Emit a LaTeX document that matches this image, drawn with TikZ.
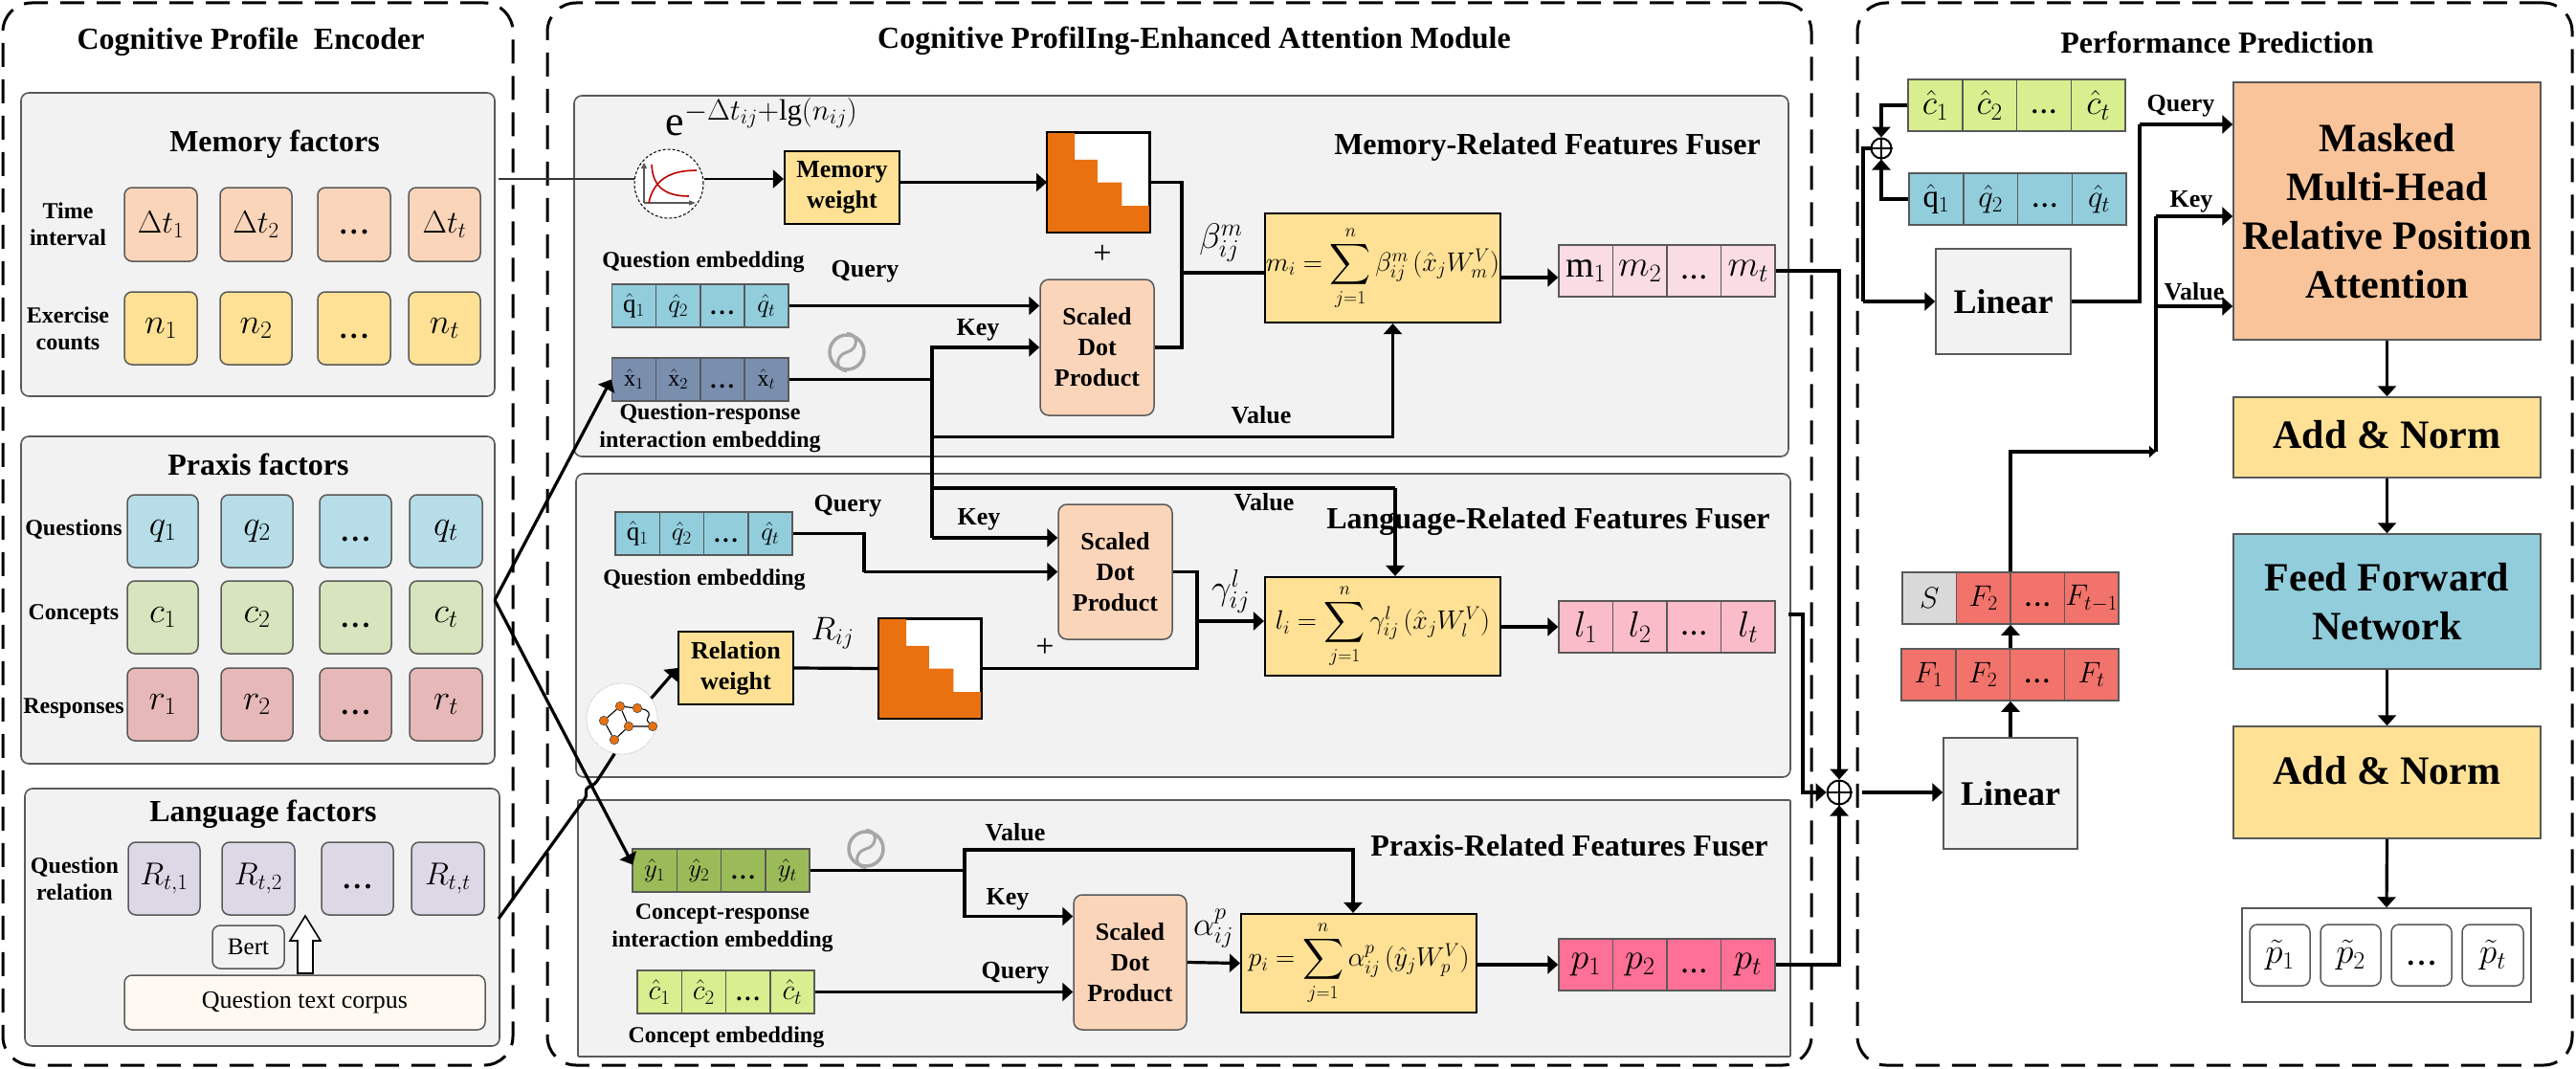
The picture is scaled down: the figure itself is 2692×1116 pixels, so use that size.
\RequirePackage{fix-cm}
\documentclass[tikz,border=0pt]{standalone}
\usepackage{fontspec}
\setmainfont{Liberation Serif}
\usepackage{amsmath}
\usetikzlibrary{arrows.meta,calc}
\definecolor{pOrange}{HTML}{FBD5BA}
\definecolor{pYellow}{HTML}{FFE195}
\definecolor{pBlue}{HTML}{B7DDE8}
\definecolor{pGreen}{HTML}{D7E4BD}
\definecolor{pRed}{HTML}{E6B9B8}
\definecolor{pPurple}{HTML}{DDD8E6}
\definecolor{qBlue}{HTML}{92CDDC}
\definecolor{xBlue}{HTML}{7A8EAE}
\definecolor{yGreen}{HTML}{9BBB59}
\definecolor{cGreen}{HTML}{D8EE8F}
\definecolor{mPink}{HTML}{FADCE4}
\definecolor{lPink}{HTML}{FBBCCA}
\definecolor{pPink}{HTML}{FF7097}
\definecolor{fRed}{HTML}{F2736B}
\definecolor{maskO}{HTML}{E97110}
\definecolor{attO}{HTML}{F9C49A}
\definecolor{panelG}{HTML}{F2F2F2}
\definecolor{edgeG}{HTML}{595959}
\definecolor{swirlG}{HTML}{A6A6A6}
\newcommand{\fsz}[2]{\fontsize{#1}{#2}\selectfont}
\newcommand{\bx}[7]{\node[#2,minimum width={(#5-#3)*1pt},minimum height={(#6-#4)*1pt},inner sep=0pt] (#1) at ({(#3+#5)/2},{(#4+#6)/2}) {#7};}
\newcommand{\cellrow}[6]{\def\rn{#1}\tikzset{currow/.style={#2}}\def\rxa{#3}\def\rya{#4}\def\ryb{#6}\pgfmathsetmacro{\rw}{(#5-#3)/4}\cellrowB}
\newcommand{\cellrowB}[4]{%
\pgfmathsetmacro{\rxb}{\rxa+\rw}\pgfmathsetmacro{\rxc}{\rxa+2*\rw}\pgfmathsetmacro{\rxd}{\rxa+3*\rw}\pgfmathsetmacro{\rxe}{\rxa+4*\rw}%
\bx{\rn1}{currow}{\rxa}{\rya}{\rxb}{\ryb}{#1}%
\bx{\rn2}{currow}{\rxb}{\rya}{\rxc}{\ryb}{#2}%
\bx{\rn3}{currow}{\rxc}{\rya}{\rxd}{\ryb}{#3}%
\bx{\rn4}{currow}{\rxd}{\rya}{\rxe}{\ryb}{#4}}
\newcommand{\maskbox}[5]{%
\bx{#1}{draw=black,line width=2pt,fill=white}{#2}{#3}{#4}{#5}{}%
\pgfmathsetmacro{\mw}{#4-#2}\pgfmathsetmacro{\mh}{#5-#3}%
\fill[maskO] (#2,#3) -- ++({.265*\mw},0) -- ++(0,{.27*\mh}) -- ++({.225*\mw},0) -- ++(0,{.23*\mh}) -- ++({.24*\mw},0) -- ++(0,{.24*\mh}) -- ++({.27*\mw},0) -- (#4,#5) -- (#2,#5) -- cycle;%
\draw[black,line width=2pt] (#1.north west) rectangle (#1.south east);}
\newcommand{\oplusnode}[4]{\node[circle,draw=black,line width=2pt,minimum size=#4,inner sep=0pt,fill=white] (#1) at (#2,#3) {};\draw[line width=2pt] (#1.north) -- (#1.south) (#1.west) -- (#1.east);}
\newcommand{\swirl}[3]{\node[circle,draw=swirlG,line width=3.5pt,minimum size=36pt,inner sep=0pt] (#1) at (#2,#3) {};\draw[swirlG,line width=3pt] (#1.north) .. controls +(13,1) and +(12,-3) .. (#1.center) .. controls +(-12,3) and +(-13,-1) .. (#1.south);}
\newcommand{\dd}{\rule{0pt}{.7em}\textbf{.\kern.12em.\kern.12em.}}
\newcommand{\ddB}{\fsz{30}{36}\dd}
\newcommand{\Bsum}{\mathop{\vcenter{\hbox{\scalebox{1.2}{$\displaystyle\sum$}}}}\limits}
\tikzset{
 section/.style={draw=black,line width=3pt,dash pattern=on 25pt off 13pt,rounded corners=30pt},
 panel/.style={draw=edgeG,line width=1.6pt,fill=panelG,rounded corners=8pt},
 roundcell/.style={draw=edgeG,line width=1.5pt,rounded corners=8pt,font=\fsz{33}{38}},
 rowcell/.style={draw=edgeG,line width=1.5pt,font=\fsz{27}{32}},
 wbox/.style={draw=black,line width=2.2pt,fill=pYellow,font=\bfseries\fsz{26}{32},align=center},
 sdp/.style={draw=edgeG,line width=1.5pt,fill=pOrange,rounded corners=9pt,font=\bfseries\fsz{26}{32},align=center},
 fbox/.style={draw=black,line width=2.2pt,fill=pYellow,font=\fsz{28}{32}},
 bigbox/.style={draw=edgeG,line width=1.5pt,font=\bfseries\fsz{42}{51},align=center},
 linbox/.style={draw=edgeG,line width=1.5pt,fill=panelG,font=\bfseries\fsz{36}{42}},
 ttl/.style={font=\bfseries\fsz{32}{38}},
 lab/.style={font=\bfseries\fsz{26}{32},align=center},
 sml/.style={font=\bfseries\fsz{24}{29},align=center},
 conn/.style={draw=black,line width=3.2pt,line join=miter},
 arr/.style={conn,-{Triangle[length=11pt,width=19pt]}},
 arrs/.style={conn,-{Triangle[length=7pt,width=12pt]}},
 gnode/.style={circle,fill=maskO,draw=black!70,line width=.6pt,minimum size=9.5pt,inner sep=0pt},
}
\begin{document}
\begin{tikzpicture}[x=1pt,y=-1pt]
\useasboundingbox (0,0) rectangle (2692,1116);
% sections
\bx{secA}{section}{3}{3}{536}{1113}{}
\bx{secB}{section}{572}{3}{1893}{1113}{}
\bx{secC}{section}{1941}{3}{2688}{1113}{}
\node[ttl] (tA) at (262,44) {Cognitive Profile\ \ Encoder};
\node[ttl] (tB) at (1248,43) {Cognitive ProfilIng-Enhanced Attention Module};
\node[ttl] (tC) at (2317,44) {Performance Prediction};
% left panels
\bx{pM}{panel}{22}{97}{517}{414}{}
\bx{pP}{panel}{22}{456}{517}{798}{}
\bx{pL}{panel}{26}{824}{522}{1093}{}
\node[ttl] (tM) at (287,151) {Memory factors};
\node[ttl] (tP) at (270,485) {Praxis factors};
\node[ttl] (tL) at (275,851) {Language factors};
\foreach \nm/\xa/\xb/\txt in {a/130/206/{$\Delta t_1$},b/230/305/{$\Delta t_2$},c/332/408/{\ddB},d/427/502/{$\Delta t_t$}}{\bx{t\nm}{roundcell,fill=pOrange}{\xa}{196}{\xb}{273}{\txt}}
\foreach \nm/\xa/\xb/\txt in {a/130/206/{$n_1$},b/230/305/{$n_2$},c/332/408/{\ddB},d/427/502/{$n_t$}}{\bx{n\nm}{roundcell,fill=pYellow,font=\fsz{37}{42}}{\xa}{305}{\xb}{381}{\txt}}
\foreach \nm/\xa/\xb/\txt in {a/133/207/{$q_1$},b/231/306/{$q_2$},c/334/409/{\ddB},d/428/504/{$q_t$}}{\bx{q\nm}{roundcell,fill=pBlue,font=\fsz{37}{42}}{\xa}{517}{\xb}{593}{\txt}}
\foreach \nm/\xa/\xb/\txt in {a/133/207/{$c_1$},b/231/306/{$c_2$},c/334/409/{\ddB},d/428/504/{$c_t$}}{\bx{c\nm}{roundcell,fill=pGreen,font=\fsz{37}{42}}{\xa}{607}{\xb}{683}{\txt}}
\foreach \nm/\xa/\xb/\txt in {a/133/207/{$r_1$},b/231/306/{$r_2$},c/334/409/{\ddB},d/428/504/{$r_t$}}{\bx{r\nm}{roundcell,fill=pRed,font=\fsz{37}{42}}{\xa}{698}{\xb}{774}{\txt}}
\foreach \nm/\xa/\xb/\txt in {a/134/209/{$R_{t,1}$},b/232/308/{$R_{t,2}$},c/336/411/{\ddB},d/430/506/{$R_{t,t}$}}{\bx{R\nm}{roundcell,fill=pPurple}{\xa}{880}{\xb}{956}{\txt}}
\node[sml] (lT) at (71,234) {Time\\[-1pt]interval};
\node[sml] (lE) at (71,343) {Exercise\\[-1pt]counts};
\node[sml] (lQ) at (77,553) {Questions};
\node[sml] (lC) at (77,642) {Concepts};
\node[sml] (lR) at (77,740) {Responses};
\node[sml] (lQr) at (78,918) {Question\\[-1pt]relation};
\bx{bert}{draw=edgeG,line width=1.5pt,fill=panelG,rounded corners=8pt,font=\fsz{25}{30}}{222}{967}{297}{1012}{Bert}
\bx{corpus}{draw=edgeG,line width=1.5pt,fill=orange!5,rounded corners=8pt,font=\fsz{26}{31}}{130}{1019}{507}{1076}{Question text corpus}
\draw[line width=1.6pt,fill=white] (311,1017) -- (311,983) -- (303,983) -- (319,957) -- (335,983) -- (327,983) -- (327,1017) -- cycle;
% fuser panels
\bx{fM}{panel}{600}{100}{1869}{477}{}
\bx{fL}{panel}{602}{495}{1871}{812}{}
\bx{fP}{panel,rounded corners=1pt}{604}{836}{1871}{1104}{}
\node[ttl] (tfM) at (1617,154) {Memory-Related Features Fuser};
\node[ttl] (tfP) at (1640,884) {Praxis-Related Features Fuser};
% memory fuser nodes
\node[font=\fsz{44}{50}] (expf) at (796,122) {$\mathrm{e}^{-\Delta t_{ij}+\lg(n_{ij})}$};
\node[circle,draw=black,densely dashed,line width=1pt,fill=white,minimum size=72pt,inner sep=0pt] (curve) at (699,192) {};
\draw[-{Triangle[length=6pt,width=6pt]},edgeG,line width=1.2pt] (curve.center) ++(-26,20) -- ++(0,-42);
\draw[-{Triangle[length=7pt,width=5pt]},edgeG,line width=1.2pt] (curve.center) ++(-26,20) -- ++(54,0);
\draw[red!75!black,line width=1.6pt] (678,212) .. controls (683,188) and (700,178) .. (728,178);
\draw[red!75!black,line width=1.6pt] (681,172) .. controls (682,195) and (695,205) .. (720,205);
\bx{mw}{wbox}{820}{158}{940}{234}{Memory\\weight}
\maskbox{mask1}{1095}{139}{1201}{242}
\node[font=\fsz{34}{38}] (plusA) at (1152,266) {+};
\bx{sdpA}{sdp}{1087}{292}{1206}{434}{Scaled\\Dot\\Product}
\bx{fA}{fbox}{1322}{223}{1568}{337}{$m_i=\Bsum_{j=1}^{n}\beta_{ij}^{m}\,(\hat{x}_jW_m^V)$}
\cellrow{m}{rowcell,fill=mPink,font=\fsz{38}{42}}{1629}{256}{1855}{310}{$\mathrm{m}_1$}{$m_2$}{\fsz{26}{30}\dd}{$m_t$}
\cellrow{qA}{rowcell,fill=qBlue}{639.5}{297}{824}{342}{$\hat{\mathrm{q}}_1$}{$\hat{q}_2$}{\fsz{25}{30}\dd}{$\hat{q}_t$}
\cellrow{xA}{rowcell,fill=xBlue,font=\fsz{24}{28}}{639.5}{374}{824}{419}{$\hat{\mathrm{x}}_1$}{$\hat{\mathrm{x}}_2$}{\fsz{25}{30}\dd}{$\hat{\mathrm{x}}_t$}
\node[sml] (lqA) at (735,274) {Question embedding};
\node[sml] (lxA) at (742,447) {Question-response\\interaction embedding};
\node[lab] (qyA) at (904,284) {Query};
\node[lab] (kyA) at (1022,345) {Key};
\node[lab] (vlA) at (1318,434) {Value};
\node[font=\fsz{37}{42}] (bA) at (1276,254) {$\beta_{ij}^{m}$};
\swirl{swA}{885}{368}
% language fuser nodes
\cellrow{qB}{rowcell,fill=qBlue}{643}{535}{828}{580}{$\hat{\mathrm{q}}_1$}{$\hat{q}_2$}{\fsz{25}{30}\dd}{$\hat{q}_t$}
\node[sml] (lqB) at (736,606) {Question embedding};
\node[lab] (qyB) at (886,529) {Query};
\node[lab] (kyB) at (1023,543) {Key};
\node[lab] (vlB) at (1321,525) {Value};
\bx{sdpB}{sdp}{1106}{527}{1225}{668}{Scaled\\Dot\\Product}
\maskbox{mask2}{919}{647}{1025}{750}
\node[font=\fsz{34}{38}] (plusB) at (1092,677) {+};
\bx{rw}{wbox}{709}{660}{829}{736}{Relation\\weight}
\node[font=\fsz{34}{38}] (rij) at (870,662) {$R_{ij}$};
\node[font=\fsz{37}{42}] (gA) at (1286,618) {$\gamma_{ij}^{l}$};
\bx{fB}{fbox}{1322}{603}{1568}{706}{$l_i=\Bsum_{j=1}^{n}\gamma_{ij}^{l}\,(\hat{x}_jW_l^V)$}
\cellrow{l}{rowcell,fill=lPink,font=\fsz{38}{42}}{1629}{628}{1855}{682}{$l_1$}{$l_2$}{\fsz{26}{30}\dd}{$l_t$}
\node[circle,draw=gray!50,densely dotted,line width=.8pt,fill=white,minimum size=74pt,inner sep=0pt] (gi) at (650,751) {};
\node[gnode] (g1) at (631,753) {};
\node[gnode] (g2) at (648,738) {};
\node[gnode] (g3) at (666,740) {};
\node[gnode] (g4) at (682,759) {};
\node[gnode] (g5) at (657,759) {};
\node[gnode] (g6) at (642,773) {};
\draw[line width=1.1pt] (g1)--(g2) (g2)--(g3) (g2)--(g5) (g5)--(g4) (g5)--(g6) (g1)--(g6);
\draw[line width=1.1pt] (g3) .. controls (678,742) and (680,746) .. (677,750) .. controls (675,753) and (678,755) .. (g4);
% praxis fuser nodes
\cellrow{yP}{rowcell,fill=yGreen}{661}{887}{846}{932}{$\hat{y}_1$}{$\hat{y}_2$}{\fsz{25}{30}\dd}{$\hat{y}_t$}
\cellrow{cP}{rowcell,fill=cGreen,font=\fsz{30}{34}}{666}{1014}{851}{1059}{$\hat{c}_1$}{$\hat{c}_2$}{\fsz{25}{30}\dd}{$\hat{c}_t$}
\node[sml] (lyP) at (755,970) {Concept-response\\interaction embedding};
\node[sml] (lcP) at (759,1084) {Concept embedding};
\node[lab] (vlP) at (1061,870) {Value};
\node[lab] (kyP) at (1053,940) {Key};
\node[lab] (qyP) at (1061,1017) {Query};
\swirl{swP}{905}{887}
\bx{sdpC}{sdp}{1122}{935}{1240}{1076}{Scaled\\Dot\\Product}
\node[font=\fsz{35}{40}] (aP) at (1268,970) {$\alpha_{ij}^{p}$};
\bx{fC}{fbox}{1297}{955}{1543}{1058}{$p_i=\Bsum_{j=1}^{n}\alpha_{ij}^{p}\,(\hat{y}_jW_p^V)$}
\cellrow{pp}{rowcell,fill=pPink,font=\fsz{38}{42}}{1629}{981}{1855}{1035}{$p_1$}{$p_2$}{\fsz{26}{30}\dd}{$p_t$}
% performance nodes
\cellrow{cT}{rowcell,fill=cGreen,font=\fsz{36}{40}}{1994}{83}{2221}{137}{$\hat{c}_1$}{$\hat{c}_2$}{\fsz{26}{30}\dd}{$\hat{c}_t$}
\cellrow{qT}{rowcell,fill=qBlue,font=\fsz{33}{38}}{1995}{181}{2222}{235}{$\hat{\mathrm{q}}_1$}{$\hat{q}_2$}{\fsz{26}{30}\dd}{$\hat{q}_t$}
\oplusnode{plusT}{1966}{155}{21pt}
\oplusnode{plusM}{1922}{828}{25pt}
\bx{lin1}{linbox}{2023}{260}{2164}{370}{Linear}
\bx{lin2}{linbox}{2031}{771}{2171}{887}{Linear}
\cellrow{Fr}{rowcell,fill=fRed,font=\fsz{31}{36}}{1987}{678}{2214}{732}{$F_1$}{$F_2$}{\fsz{26}{30}\dd}{$F_t$}
\cellrow{Sr}{rowcell,fill=fRed,font=\fsz{31}{36}}{1988}{598}{2214}{652}{}{$F_2$}{\fsz{26}{30}\dd}{$F_{t-1}$}
\bx{SrS}{rowcell,fill=black!15,font=\fsz{31}{36}}{1988}{598}{2044.5}{652}{$S$}
\bx{att}{bigbox,fill=attO}{2334}{86}{2655}{355}{Masked\\Multi-Head\\Relative Position\\Attention}
\bx{add1}{bigbox,fill=pYellow}{2334}{415}{2655}{499}{\raisebox{6pt}{Add \& Norm}}
\bx{ffn}{bigbox,fill=qBlue}{2334}{558}{2655}{699}{Feed Forward\\Network}
\bx{add2}{bigbox,fill=pYellow}{2334}{759}{2655}{876}{\raisebox{26pt}{Add \& Norm}}
\bx{out}{draw=edgeG,line width=1.5pt,fill=white}{2343}{949}{2645}{1047}{}
\foreach \nm/\xa/\xb/\txt in {a/2351/2414/{$\tilde{p}_1$},b/2425/2488/{$\tilde{p}_2$},c/2499/2562/{\ddB},d/2573/2637/{$\tilde{p}_t$}}{\bx{o\nm}{roundcell,fill=white,font=\fsz{37}{42}}{\xa}{966}{\xb}{1030}{\txt}}
\node[lab] (qyT) at (2279,111) {Query};
\node[lab] (kyT) at (2290,211) {Key};
\node[lab] (vlT) at (2293,305) {Value};
% junction coordinates
\coordinate (j1) at (974,396.5);
\coordinate (v1) at (1455.5,456.5);
\coordinate (b1) at (1235,363);
\coordinate (b1t) at (1237,285);
\coordinate (j1k) at (974,562);
\coordinate (j1v) at (974,510);
\coordinate (v2) at (1458,510);
\coordinate (q2b) at (903,597.5);
\coordinate (b2) at (1251,698.5);
\coordinate (b2t) at (1251,649);
\coordinate (j3) at (1008,909.5);
\coordinate (v3) at (1414,888);
\coordinate (lsrc) at (1869,642);
\coordinate (lv) at (1884,828);
\coordinate (ps) at (1946,828);
\coordinate (g1T) at (1947,315);
\coordinate (qbend) at (2236,130);
\coordinate (kvA) at (2101,472);
\coordinate (kvB) at (2253,472);
\coordinate (kvK) at (2253,226);
\coordinate (kvV) at (2253,320);
\coordinate (tm) at (521,187);
\coordinate (pr) at (517,627);
\coordinate (lg) at (521,960);
\coordinate (lgA) at (613,832);
\coordinate (lgB) at (612,824);
\coordinate (lgC) at (622,819);
% connectors memory
\draw[line width=2pt,edgeG!60!black] (tm) -- (tm -| curve.west);
\draw[arr,line width=2.2pt] (curve.east |- tm) -- (tm -| mw.west);
\draw[arr] (mw.east |- mask1.west) -- (mask1.west);
\draw[arr] (qA4.east) -- (qA4.east -| sdpA.west);
\draw[conn] (xA4.east) -- (j1);
\draw[arr] (j1) |- (sdpA.west);
\draw[arr] (j1) -- (j1 |- v1) -- (v1) -- (v1 |- fA.south);
\draw[conn] (mask1.east) -| (b1) -- (sdpA.east);
\draw[conn] (b1t) -- (b1t -| fA.west);
\draw[arr] (fA.east |- 0,290) -- (m1.west |- 0,290);
\draw[conn] (j1) -- (j1k);
\draw[arr] (j1k) -- (j1k -| sdpB.west);
\draw[conn] (j1v) -- (v2);
\draw[arr] (v2) -- (v2 |- fB.north);
\draw[arr] (m4.east) -| (plusM.north);
% connectors language
\draw[conn] (qB4.east) -| (q2b);
\draw[arr] (q2b) -- (sdpB.west);
\draw[conn] (sdpB.east) -| (b2) -- (mask2.east);
\draw[arr] (b2t) -- (b2t -| fB.west);
\draw[conn] (rw.east) -- (mask2.west);
\draw[arr] (fB.east |- l1.west) -- (l1.west);
\draw[arr] (lsrc) -| (lv) -- (plusM.west);
\draw[arr] (pr) -- (xA1.west);
\draw[arr] (pr) -- ($(yP1.west)+(1,-6)$);
\draw[conn,rounded corners=3pt] (lg) -- (lgA) -- (lgB) -- (lgC) -- (gi.258);
\draw[arr] (gi.35) -- (rw.west);
% connectors praxis
\draw[conn] (yP4.east) -- (j3);
\draw[arr] (j3) -- (j3 |- v3) -- (v3) -- (v3 |- fC.north);
\draw[arr] (j3) |- (sdpC.west |- 0,957.5);
\draw[arr] (cP4.east) -- (cP4.east -| sdpC.west);
\draw[arr] (sdpC.east) -- (fC.west);
\draw[arr] (fC.east |- pp1.west) -- (pp1.west);
\draw[arr] (pp4.east) -| (plusM.south);
% connectors performance
\draw[arr] (ps) -- (ps -| lin2.west);
\draw[arr] (lin2.north) -- (lin2.north |- Fr2.south);
\draw[arr] (lin2.north |- Fr2.north) -- (lin2.north |- Sr2.south);
\draw[arrs] (lin2.north |- Sr2.north) -- (kvA) -- (kvB);
\draw[conn] (kvB) -- (kvK);
\draw[arr] (kvK) -- (kvK -| att.west);
\draw[arr] (kvV) -- (kvV -| att.west);
\draw[arr] (cT1.west) -| (plusT.north);
\draw[arr] (qT1.west) -| (plusT.south);
\draw[conn] (plusT.west) -| (g1T);
\draw[arr] (g1T) -- (lin1.west);
\draw[conn] (lin1.east) -| (qbend);
\draw[arr] (qbend) -- (qbend -| att.west);
\draw[arr] (att.south) -- (add1.north);
\draw[arr] (add1.south) -- (ffn.north);
\draw[arr] (ffn.south) -- (add2.north);
\draw[arr] (add2.south) -- (out.north);
\node[ttl] (tfL) at (1618,545) {Language-Related Features Fuser};
\end{tikzpicture}
\end{document}
